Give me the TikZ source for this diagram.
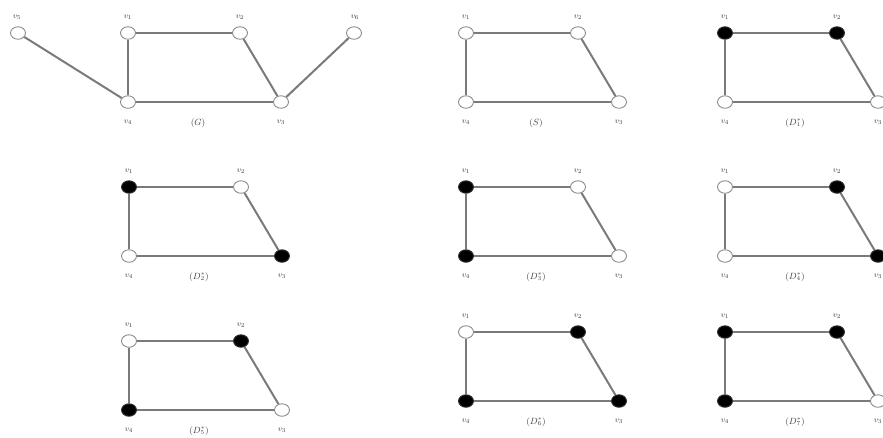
\documentclass[tikz,border=0pt]{standalone}
\usetikzlibrary{shapes.geometric}
\begin{document}
\begin{tikzpicture}[x=1pt,y=-1pt,
  vtx/.style={ellipse,draw=black!45,line width=0.9pt,minimum width=15pt,minimum height=12.5pt,inner sep=0pt},
  wv/.style={vtx,fill=white},
  bv/.style={vtx,fill=black,draw=black!80},
  gedge/.style={draw=black!52,line width=2pt},
  vlab/.style={text=black!75,font=\fontsize{8}{9}\selectfont,inner sep=0pt},
  captxt/.style={text=black!75,font=\fontsize{9}{10}\selectfont,inner sep=0pt}]
\useasboundingbox (0,0) rectangle (883,437);
\newcommand{\quadgraph}[8]{%
\begin{scope}[shift={(#2,#3)}]
  \node[#4] (#1a) at (0,0) {};
  \node[#5] (#1b) at (112,0) {};
  \node[#6] (#1c) at (153,69) {};
  \node[#7] (#1d) at (0,69) {};
  \draw[gedge] (#1a) -- (#1b);
  \draw[gedge] (#1b) -- (#1c);
  \draw[gedge] (#1c) -- (#1d);
  \draw[gedge] (#1d) -- (#1a);
  \node[vlab] (#1la) at (0,-16) {$v_1$};
  \node[vlab] (#1lb) at (112,-16) {$v_2$};
  \node[vlab] (#1lc) at (153,89) {$v_3$};
  \node[vlab] (#1ld) at (0,89) {$v_4$};
  \node[captxt] (#1cap) at (70,90) {#8};
\end{scope}}
% graph G
\quadgraph{g}{128}{33}{wv}{wv}{wv}{wv}{$(G)$}
\node[wv] (g5) at (18,33) {};
\node[wv] (g6) at (354,33) {};
\draw[gedge] (g5) -- (gd);
\draw[gedge] (g6) -- (gc);
\node[vlab] (gl5) at (17,17) {$v_5$};
\node[vlab] (gl6) at (355,17) {$v_6$};
% S and D graphs
\quadgraph{s}{466}{33}{wv}{wv}{wv}{wv}{$(S)$}
\quadgraph{da}{725}{33}{bv}{bv}{wv}{wv}{$(D_1^*)$}
\quadgraph{db}{129}{187}{bv}{wv}{bv}{wv}{$(D_2^*)$}
\quadgraph{dc}{466}{187}{bv}{wv}{wv}{bv}{$(D_3^*)$}
\quadgraph{dd}{725}{187}{wv}{bv}{bv}{wv}{$(D_4^*)$}
\quadgraph{de}{129}{341}{wv}{bv}{wv}{bv}{$(D_5^*)$}
\quadgraph{df}{466}{332}{wv}{bv}{bv}{bv}{$(D_6^*)$}
\quadgraph{dg}{725}{332}{bv}{bv}{wv}{bv}{$(D_7^*)$}
\end{tikzpicture}
\end{document}
